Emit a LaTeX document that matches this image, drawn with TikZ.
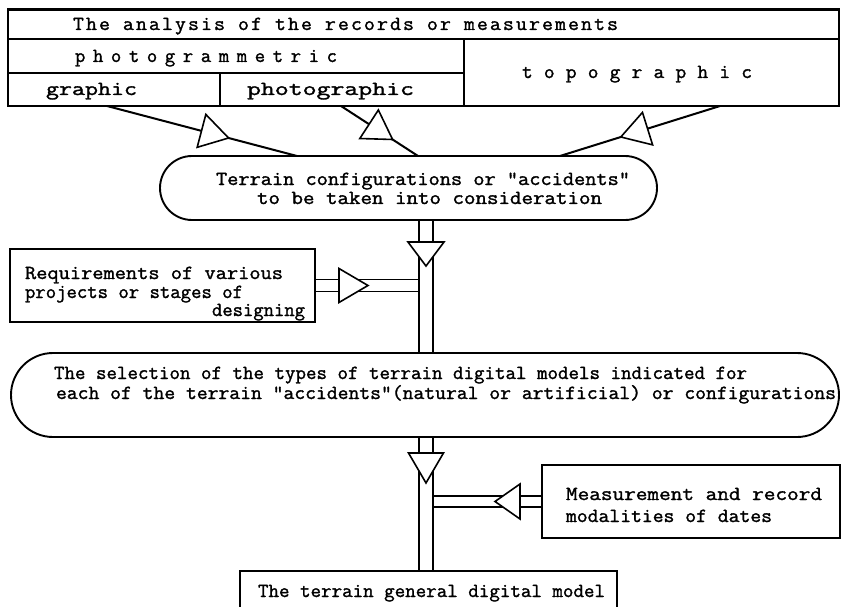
\documentclass[tikz,border=0pt]{standalone}
\usepackage{fontspec}
\usepackage{graphicx}
\usetikzlibrary{shapes.misc,decorations.markings,backgrounds,calc}
\newfontfamily\lettering{Latin Modern Mono}[FakeBold=1.4]
% letter spacing, then stretch the line to the given width (pt)
\newcommand\fitline[3]{{\addfontfeature{LetterSpace=#1}\resizebox{#2pt}{\height}{#3}}}
\begin{document}
\begin{tikzpicture}[x=1pt,y=-1pt,
  frame/.style={draw, line width=2pt, inner sep=0pt, outer sep=0pt, fill=white},
  cell/.style={draw, line width=1.6pt, inner sep=0pt, outer sep=0pt},
  oval/.style={draw, rounded rectangle, line width=1.9pt, fill=white, inner sep=0pt, outer sep=0pt},
  txt/.style={anchor=base west, inner sep=0pt, outer sep=0pt, font=\lettering\fontsize{20}{22}\selectfont},
  feed/.style={line width=2pt},
  pipe/.style={preaction={draw=black, line width=#1pt+3pt}, draw=white, line width=#1pt},
  tip/.style n args={3}{postaction={decorate, decoration={markings,
      mark=at position #1 with {\draw[draw=black, fill=white, line width=1.6pt, line join=miter]
        (0pt,0pt) -- (-#2pt,#3pt) -- (-#2pt,-#3pt) -- cycle;}}}}
]
\useasboundingbox (0,0) rectangle (843,607);
\clip (0,0) rectangle (843,607);

% table of record types
\node[frame, line width=2.4pt, minimum width=831pt, minimum height=96.5pt, anchor=north west] (tbl) at (8,9.5) {};
\node[cell, minimum width=831pt, minimum height=29.5pt, anchor=north west] (ctitle) at (8,9.5) {};
\node[cell, minimum width=456pt, minimum height=34pt, anchor=north west] (cpgm) at (8,39) {};
\node[cell, minimum width=212pt, minimum height=33pt, anchor=north west] (cgra) at (8,73) {};
\node[cell, minimum width=244pt, minimum height=33pt, anchor=north west] (cpho) at (220,73) {};
\node[cell, minimum width=375pt, minimum height=67pt, anchor=north west] (ctopo) at (464,39) {};

% process ovals
\node[oval, minimum width=497pt, minimum height=64pt] (ov1) at (408.5,188) {};
\node[oval, minimum width=828pt, minimum height=84pt] (ov2) at (425,395) {};

% side inputs and result
\node[frame, minimum width=305pt, minimum height=73pt, anchor=north west] (req) at (10,249) {};
\node[frame, minimum width=298pt, minimum height=73pt, anchor=north west] (meas) at (542,465) {};
\node[frame, minimum width=377pt, minimum height=45pt, anchor=north west] (gen) at (240,571) {};

% lettering
\node[txt] (t0) at (73,30) {\fitline{10}{545}{The analysis of the records or measurements}};
\node[txt] (t1) at (75,62) {\fitline{38}{262}{photogrammetric}};
\node[txt] (t2) at (46,95) {\fitline{0}{91}{graphic}};
\node[txt] (t3) at (247,95) {\fitline{0}{167}{photographic}};
\node[txt] (t4) at (522,78) {\fitline{54}{230}{topographic}};
\node[txt] (t5) at (216,185) {\fitline{0}{414}{Terrain configurations or "accidents"}};
\node[txt] (t6) at (257,204) {\fitline{0}{345}{to be taken into consideration}};
\node[txt] (t7) at (25,279) {\fitline{0}{258}{Requirements of various}};
\node[txt] (t8) at (25,298) {\fitline{0}{218}{projects or stages of}};
\node[txt] (t9) at (212,316) {\fitline{0}{93}{designing}};
\node[txt] (t10) at (54,379) {\fitline{0}{693}{The selection of the types of terrain digital models indicated for}};
\node[txt] (t11) at (56,399) {\fitline{0}{780}{each of the terrain "accidents"(natural or artificial) or configurations}};
\node[txt] (t12) at (566,500) {\fitline{0}{256}{Measurement and record}};
\node[txt] (t13) at (566,522) {\fitline{0}{206}{modalities of dates}};
\node[txt] (t14) at (258,597) {\fitline{0}{347}{The terrain general digital model}};

\coordinate (spine) at (426,0);

\begin{scope}[on background layer]
  % feeds from the table into the first oval
  \draw[feed, tip={0.64}{28}{17}] ($(tbl.south west)+(99,0)$) -- ($(ov1.north)+(-111.5,0)$);
  \draw[feed, tip={0.67}{28}{17}] ($(tbl.south west)+(333,0)$) -- ($(ov1.north)+(9.5,0)$);
  \draw[feed, tip={0.62}{28}{17}] ($(tbl.south west)+(712,0)$) -- ($(ov1.north)+(151.5,0)$);
  % main double-line flow
  \draw[pipe=12.5, tip={0.346}{24}{18}] (ov1.south -| spine) -- (ov2.north -| spine);
  \draw[pipe=12.5, tip={0.343}{30}{17.5}] (ov2.south -| spine) -- (gen.north -| spine);
  % side inputs
  \draw[pipe=10.5, tip={0.513}{29}{17}] (req.east) -- ($(req.east -| spine)+(-7.75,0)$);
  \draw[pipe=9.5, tip={0.434}{25}{17.5}] (meas.west) -- ($(meas.west -| spine)+(7.75,0)$);
\end{scope}
\end{tikzpicture}
\end{document}
